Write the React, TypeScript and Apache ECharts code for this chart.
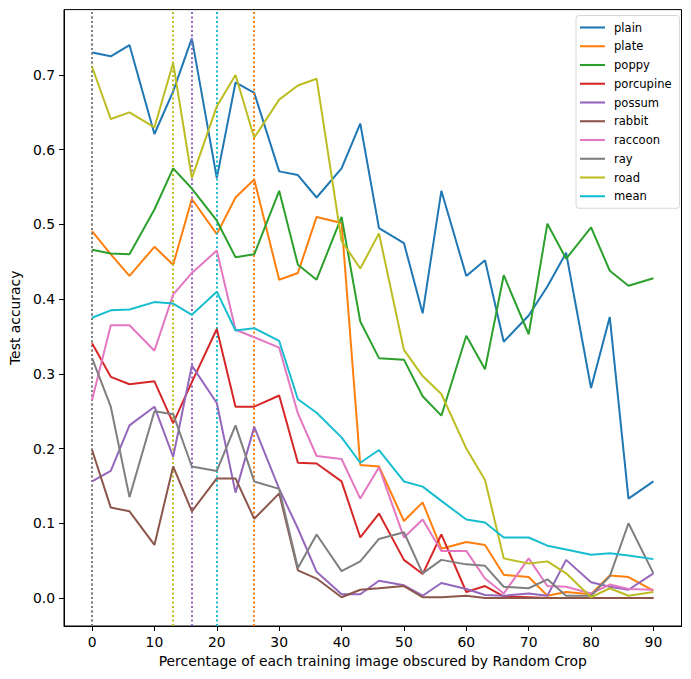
import React, { useEffect, useRef } from "react";
import * as echarts from "echarts";

const xValues = [0, 3, 6, 10, 13, 16, 20, 23, 26, 30, 33, 36, 40, 43, 46, 50, 53, 56, 60, 63, 66, 70, 73, 76, 80, 83, 86, 90];

const plain = [0.730, 0.725, 0.740, 0.621, 0.678, 0.749, 0.562, 0.690, 0.676, 0.571, 0.566, 0.536, 0.575, 0.635, 0.495, 0.475, 0.381, 0.545, 0.431, 0.452, 0.343, 0.378, 0.417, 0.462, 0.281, 0.376, 0.133, 0.156];
const plate = [0.491, 0.460, 0.431, 0.470, 0.446, 0.534, 0.487, 0.536, 0.560, 0.426, 0.435, 0.510, 0.502, 0.178, 0.176, 0.103, 0.128, 0.066, 0.075, 0.071, 0.031, 0.028, 0.003, 0.008, 0.005, 0.030, 0.028, 0.010];
const poppy = [0.466, 0.461, 0.460, 0.520, 0.575, 0.548, 0.505, 0.456, 0.460, 0.545, 0.446, 0.426, 0.510, 0.370, 0.321, 0.319, 0.270, 0.244, 0.351, 0.306, 0.432, 0.353, 0.501, 0.454, 0.496, 0.438, 0.418, 0.428];
const porcupine = [0.341, 0.296, 0.286, 0.290, 0.234, 0.289, 0.360, 0.256, 0.256, 0.271, 0.181, 0.180, 0.156, 0.081, 0.113, 0.051, 0.032, 0.085, 0.008, 0.016, 0.002, 0.001, 0.000, 0.000, 0.000, 0.000, 0.000, 0.000];
const possum = [0.156, 0.170, 0.231, 0.256, 0.189, 0.311, 0.261, 0.141, 0.229, 0.146, 0.093, 0.035, 0.005, 0.005, 0.023, 0.017, 0.003, 0.020, 0.012, 0.004, 0.003, 0.006, 0.003, 0.051, 0.021, 0.015, 0.011, 0.033];
const rabbit = [0.198, 0.121, 0.116, 0.071, 0.176, 0.116, 0.160, 0.160, 0.106, 0.140, 0.037, 0.026, 0.001, 0.011, 0.013, 0.016, 0.001, 0.001, 0.003, 0.000, 0.000, 0.000, 0.000, 0.000, 0.000, 0.000, 0.000, 0.000];
const raccoon = [0.265, 0.365, 0.365, 0.331, 0.406, 0.435, 0.465, 0.359, 0.349, 0.335, 0.247, 0.190, 0.186, 0.133, 0.175, 0.081, 0.105, 0.063, 0.063, 0.026, 0.006, 0.053, 0.016, 0.015, 0.006, 0.018, 0.012, 0.011];
const ray = [0.321, 0.256, 0.135, 0.250, 0.246, 0.176, 0.170, 0.231, 0.156, 0.146, 0.040, 0.085, 0.036, 0.049, 0.079, 0.088, 0.033, 0.051, 0.045, 0.043, 0.015, 0.013, 0.025, 0.003, 0.003, 0.029, 0.100, 0.033];
const road = [0.711, 0.641, 0.650, 0.630, 0.716, 0.562, 0.658, 0.700, 0.616, 0.667, 0.686, 0.695, 0.478, 0.441, 0.488, 0.332, 0.297, 0.273, 0.200, 0.158, 0.053, 0.046, 0.049, 0.033, 0.001, 0.013, 0.003, 0.008];
const mean = [0.375, 0.385, 0.386, 0.396, 0.394, 0.379, 0.410, 0.358, 0.361, 0.344, 0.266, 0.248, 0.215, 0.181, 0.198, 0.156, 0.149, 0.130, 0.105, 0.101, 0.081, 0.081, 0.070, 0.065, 0.058, 0.060, 0.057, 0.052];

const seriesNames = ["plain", "plate", "poppy", "porcupine", "possum", "rabbit", "raccoon", "ray", "road", "mean"];
const seriesValues = [plain, plate, poppy, porcupine, possum, rabbit, raccoon, ray, road, mean];
const colors = ["#1f77b4", "#ff7f0e", "#2ca02c", "#d62728", "#9467bd", "#8c564b", "#e377c2", "#7f7f7f", "#bcbd22", "#17becf"];

// best-result markers (x positions) per series, drawn as dotted vertical lines
const markerX: Record<string, number> = { rabbit: 0, ray: 0, road: 13, possum: 16, mean: 20, plate: 26 };

const xTicks = [0, 10, 20, 30, 40, 50, 60, 70, 80, 90];
const yTicks = [0, 0.1, 0.2, 0.3, 0.4, 0.5, 0.6, 0.7];

const FONT = "DejaVu Sans";

export default function App() {
  const ref = useRef<HTMLDivElement>(null);
  useEffect(() => {
    if (!ref.current) return;
    const chart = echarts.init(ref.current, undefined, { renderer: "svg" });
    const series: any[] = seriesNames.map((name, i) => {
      const s: any = {
        name,
        type: "line",
        data: xValues.map((x, j) => [x, seriesValues[i][j]]),
        symbol: "none",
        lineStyle: { width: 2, color: colors[i] },
        itemStyle: { color: colors[i] },
        z: 3 + i,
      };
      if (markerX[name] !== undefined) {
        s.markLine = {
          silent: true,
          symbol: "none",
          label: { show: false },
          lineStyle: { type: [2, 2.5], width: 2, color: colors[i], opacity: name === "rabbit" ? 0.6 : 1 },
          data: [{ xAxis: markerX[name] }],
        };
      }
      return s;
    });
    chart.setOption({
      animation: false,
      grid: { left: 61.5, right: 9.5, top: 9.6, bottom: 53, show: true, borderColor: "#000", borderWidth: 1, backgroundColor: "transparent" },
      xAxis: {
        type: "value",
        min: -4.5,
        max: 94.5,
        name: "Percentage of each training image obscured by Random Crop",
        nameLocation: "middle",
        nameGap: 28,
        nameTextStyle: { fontFamily: FONT, fontSize: 13.9, color: "#000" },
        axisLine: { show: true, onZero: false, lineStyle: { color: "#000", width: 1 } },
        axisTick: { show: true, length: 5, lineStyle: { color: "#000" }, customValues: xTicks },
        axisLabel: { customValues: xTicks, fontFamily: FONT, fontSize: 13.9, color: "#000", margin: 9 },
        splitLine: { show: false },
      },
      yAxis: {
        type: "value",
        min: -0.0375,
        max: 0.7875,
        name: "Test accuracy",
        nameLocation: "middle",
        nameGap: 38,
        nameTextStyle: { fontFamily: FONT, fontSize: 13.9, color: "#000" },
        axisLine: { show: true, onZero: false, lineStyle: { color: "#000", width: 1 } },
        axisTick: { show: true, length: 5, lineStyle: { color: "#000" }, customValues: yTicks },
        axisLabel: { customValues: yTicks, fontFamily: FONT, fontSize: 13.9, color: "#000", margin: 9, formatter: (v: number) => v.toFixed(1) },
        splitLine: { show: false },
      },
      legend: {
        orient: "vertical",
        left: 576,
        top: 15.5,
        padding: [5, 8, 5, 4],
        icon: "rect",
        itemWidth: 25,
        itemHeight: 2.1,
        itemGap: 4.75,
        borderColor: "#d6d6d6",
        borderWidth: 1,
        borderRadius: 3,
        backgroundColor: "rgba(255,255,255,0.8)",
        textStyle: { fontFamily: FONT, fontSize: 11.57, color: "#000", lineHeight: 14, padding: [0, 0, 0, 4] },
        data: seriesNames,
      },
      series,
    });
    return () => chart.dispose();
  }, []);
  return <div ref={ref} style={{ width: 691, height: 679, position: "absolute", left: 0, top: 0 }} />;
}
